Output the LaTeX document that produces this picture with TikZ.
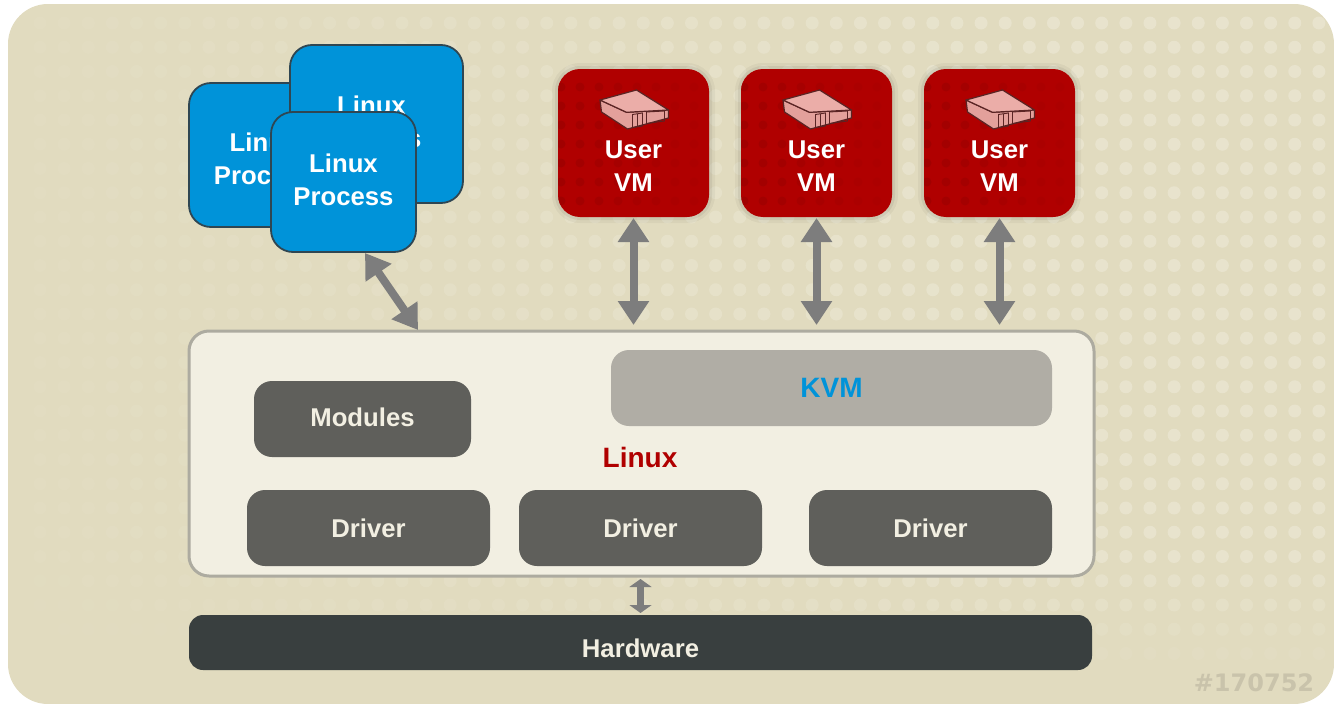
\documentclass[tikz,border=0pt]{standalone}
\usepackage{fontspec}
\setmainfont{Liberation Sans}
\newfontfamily\tagfont{DejaVu Sans}
\usetikzlibrary{calc,arrows.meta}
\definecolor{sand}{HTML}{E1DBBF}
\definecolor{sanddot}{HTML}{EBE7D3}
\definecolor{shell}{HTML}{F2EFE2}
\definecolor{shellline}{HTML}{ADABA0}
\definecolor{procblue}{HTML}{0093D9}
\definecolor{procline}{HTML}{2F4652}
\definecolor{vmred}{HTML}{B00000}
\definecolor{vmdot}{HTML}{980000}
\definecolor{iconpink}{HTML}{EBADA8}
\definecolor{iconfront}{HTML}{E3A09B}
\definecolor{iconline}{HTML}{5A2424}
\definecolor{kvmgrey}{HTML}{B0ADA5}
\definecolor{darkbox}{HTML}{5F5F5B}
\definecolor{hwgrey}{HTML}{393F3F}
\definecolor{arrowgrey}{HTML}{7D7D7D}
\definecolor{tagtext}{HTML}{C9C3AB}
\newcommand{\boxfont}{\fontsize{25.7}{33}\selectfont\bfseries}
\newcommand{\bigboxfont}{\fontsize{28}{33}\selectfont\bfseries}
\tikzset{
  pics/vmicon/.style={code={
    \draw[draw=iconline,line width=1.2pt,line join=round,fill=iconfront]
      (-33.5,-43) -- (-32,-31) -- (-6,-14) -- (35,-25) -- (35,-33) -- (-7,-30.7) -- cycle;
    \draw[draw=iconline,line width=1.2pt,line join=round,fill=iconpink]
      (-33.5,-43) -- (3,-53) -- (35,-33) -- (-7,-30.7) -- cycle;
    \draw[draw=iconline,line width=.9pt] (-1,-28.5) -- (9,-30) -- (9,-17) -- (-1,-15.5) -- cycle;
    \draw[draw=iconline,line width=.9pt] (4,-29.2) -- (4,-16.2);
    \draw[draw=iconline,line width=.9pt] (13,-31) -- (31,-32) -- (31,-22) -- (13,-19.5) -- cycle;
  }}
}
\begin{document}
\begin{tikzpicture}[x=1pt,y=-1pt]
  \tikzstyle{backdrop} = [rectangle, rounded corners=40pt, fill=sand, minimum width=1326pt, minimum height=700pt, inner sep=0pt, outer sep=0pt,
    path picture={
      \foreach \i in {0,...,53} {
        \foreach \j in {0,...,27} {
          \pgfmathsetmacro{\dotx}{40+24.13*\i}
          \pgfmathsetmacro{\doty}{23+24.25*\j}
          \pgfmathsetmacro{\dotop}{min(.7,(0.08+0.7*\dotx/1100))*max(0,min(1,(680-\doty)/120))}
          \fill[sanddot,opacity=\dotop] ($(path picture bounding box.north west)+(\dotx-8,\doty-4)$) circle (6.5pt);
        }
      }
    }];
  \tikzstyle{procbox} = [rectangle, rounded corners=22pt, draw=procline, line width=1.8pt, fill=procblue, text=white, font=\boxfont, align=center, inner sep=0pt, outer sep=0pt];
  \tikzstyle{vmbox} = [rectangle, rounded corners=22pt, fill=vmred, text=white, font=\boxfont, align=center, minimum width=151pt, minimum height=148pt, inner sep=0pt, outer sep=0pt,
    preaction={draw=black,opacity=.04,line width=12pt},
    preaction={draw=black,opacity=.06,line width=6pt},
    path picture={
      \foreach \i in {0,...,7} {
        \foreach \j in {0,...,6} {
          \pgfmathsetmacro{\dotop}{max(.15,.6-\i*.07)}
          \fill[vmdot,opacity=\dotop] ($(path picture bounding box.north west)+(3+19*\i,18+19*\j)$) circle (4.5pt);
        }
      }
    }];
  \tikzstyle{darkitem} = [rectangle, rounded corners=18pt, fill=darkbox, text=shell, font=\boxfont, inner sep=0pt, outer sep=0pt];
  \tikzstyle{twoway} = [{Triangle[width=30pt,length=24pt]}-{Triangle[width=30pt,length=24pt]}, arrowgrey, line width=8pt];

  \useasboundingbox (0,0) rectangle (1334,704);
  \node[backdrop] (back) at (671,354) {};

  % processes
  \node[procbox, minimum width=150pt, minimum height=144pt] (proc1) at (264,155) {\raisebox{-12.9pt}[0pt][0pt]{\begin{tabular}{@{}c@{}}Linux\\Process\end{tabular}}};
  \node[procbox, minimum width=173pt, minimum height=158pt] (proc2) at (376.5,124) {\hspace*{-10pt}\begin{tabular}{@{}c@{}}Linux\\Process\end{tabular}};
  \node[procbox, minimum width=145pt, minimum height=140pt] (proc3) at (343.5,182) {\begin{tabular}{@{}c@{}}Linux\\Process\end{tabular}};

  % vms
  \foreach \i/\x in {1/633.5,2/816.5,3/999.5} {
    \node[vmbox] (vm\i) at (\x,143) {};
    \pic at (vm\i) {vmicon};
    \node[text=white, font=\boxfont, align=center, inner sep=0pt] (vmtext\i) at (\x,166) {User\\VM};
  }

  % linux box
  \node[rectangle, rounded corners=20pt, draw=shellline, line width=3pt, fill=shell, minimum width=905pt, minimum height=245pt, inner sep=0pt, outer sep=0pt] (linux) at (641.5,453.5) {};
  \node[rectangle, rounded corners=18pt, fill=kvmgrey, text=procblue, font=\bigboxfont, minimum width=441pt, minimum height=76pt, inner sep=0pt, outer sep=0pt] (kvm) at (831.5,388) {KVM};
  \node[darkitem, minimum width=217pt, minimum height=76pt] (modules) at (362.5,419) {\raisebox{-7pt}[0pt][0pt]{Modules}};
  \node[text=vmred, font=\bigboxfont, inner sep=0pt] (linuxlabel) at (640,457.5) {Linux};
  \node[darkitem, minimum width=243pt, minimum height=76pt] (driver1) at (368.5,528) {Driver};
  \node[darkitem, minimum width=243pt, minimum height=76pt] (driver2) at (640.5,528) {Driver};
  \node[darkitem, minimum width=243pt, minimum height=76pt] (driver3) at (930.5,528) {Driver};

  % hardware
  \node[rectangle, rounded corners=14pt, fill=hwgrey, text=shell, font=\boxfont, minimum width=903pt, minimum height=55pt, inner sep=0pt, outer sep=0pt] (hardware) at (640.5,642.5) {\raisebox{-14.5pt}[0pt][0pt]{Hardware}};

  \draw[twoway] ($(proc3.south)+(21.5,1)$) -- ($(linux.north west)+(229,-1)$);
  \foreach \i in {1,2,3} {
    \draw[twoway] ($(vm\i.south)+(0,1)$) -- ($(vm\i.south |- linux.north)+(0,-6)$);
  }
  \draw[{Triangle[width=22pt,length=8pt]}-{Triangle[width=22pt,length=8pt]}, arrowgrey, line width=7pt] ($(hardware.north |- linux.south)+(0,3)$) -- ($(hardware.north)+(0,-2)$);

  \node[text=tagtext, font=\tagfont\fontsize{24}{28}\selectfont\bfseries, inner sep=0pt] (tag) at (1254,683) {\#170752};
\end{tikzpicture}
\end{document}
